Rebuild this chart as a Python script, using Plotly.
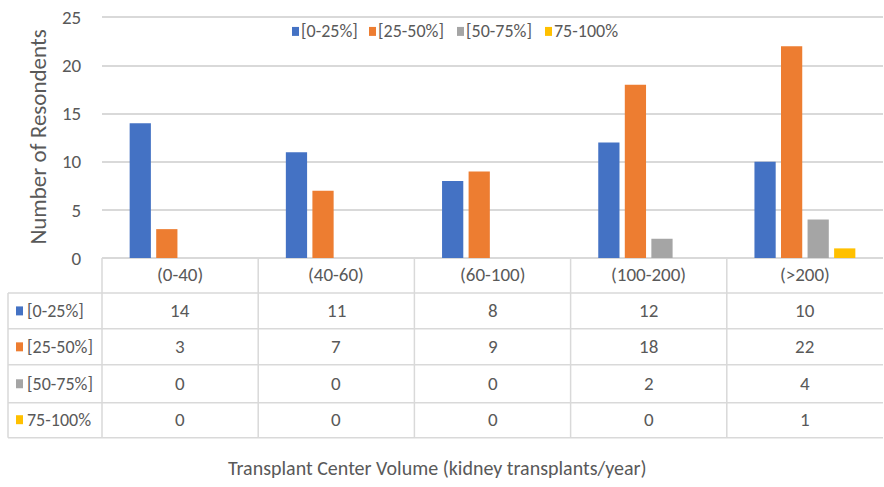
import plotly.graph_objects as go

categories = ["(0-40)", "(40-60)", "(60-100)", "(100-200)", "(>200)"]
series_names = ["[0-25%]", "[25-50%]", "[50-75%]", "75-100%"]
s_0_25 = [14, 11, 8, 12, 10]
s_25_50 = [3, 7, 9, 18, 22]
s_50_75 = [0, 0, 0, 2, 4]
s_75_100 = [0, 0, 0, 0, 1]
series_values = [s_0_25, s_25_50, s_50_75, s_75_100]
colors = ["#4472C4", "#ED7D31", "#A5A5A5", "#FFC000"]
y_ticks = [0, 5, 10, 15, 20, 25]
y_max = 25.15  # a hair above 25 so the top gridline is kept

W, H = 884, 487
Y0_PX, Y25_PX = 258, 17  # pixel rows of 0 and 25 on the value axis
PX_PER_UNIT = (Y0_PX - Y25_PX) / 25
L, R = 102, 1
B = H - Y0_PX
T = Y0_PX - PX_PER_UNIT * y_max
PW = W - L - R
PH = H - T - B
FONT = "Carlito, Lato, sans-serif"
TXT = "#595959"
GRID = "#D9D9D9"
FS = 19


def px2p(px):
    return (px - L) / PW


def py2p(py):
    return (H - B - py) / PH


fig = go.Figure()
for name, vals, col in zip(series_names, series_values, colors):
    fig.add_trace(go.Bar(x=categories, y=vals, name=name, showlegend=False,
                         marker=dict(color=col, line=dict(width=0))))

shapes = []
annotations = []
row_lines = [293, 329, 365, 403, 438]
row_centers = [311, 347, 384, 420]
for py in row_lines:
    shapes.append(dict(type="line", xref="paper", yref="paper", x0=px2p(8), x1=1.0,
                       y0=py2p(py), y1=py2p(py), line=dict(color=GRID, width=1.5)))
shapes.append(dict(type="line", xref="paper", yref="paper", x0=px2p(8), x1=px2p(8),
                   y0=py2p(row_lines[0]), y1=py2p(row_lines[-1]), line=dict(color=GRID, width=1.5)))
n = len(categories)
for i in range(n):
    xp = i / n
    shapes.append(dict(type="line", xref="paper", yref="paper", x0=xp, x1=xp,
                       y0=0, y1=py2p(row_lines[-1]), line=dict(color=GRID, width=1.5)))

# header row: category labels
for c in categories:
    annotations.append(dict(text=c, xref="x", yref="paper", x=c, y=py2p(275),
                            xanchor="center", yanchor="middle", showarrow=False,
                            font=dict(family=FONT, size=FS, color=TXT)))

# data rows
for r, (name, vals, col) in enumerate(zip(series_names, series_values, colors)):
    yc = py2p(row_centers[r])
    shapes.append(dict(type="rect", xref="paper", yref="paper", x0=px2p(16), x1=px2p(23),
                       y0=yc - 4.5 / PH, y1=yc + 4.5 / PH, fillcolor=col, line=dict(width=0)))
    annotations.append(dict(text=name, xref="paper", yref="paper", x=px2p(25), y=yc,
                            xanchor="left", yanchor="middle", showarrow=False,
                            font=dict(family=FONT, size=18, color=TXT)))
    for c, v in zip(categories, vals):
        annotations.append(dict(text=str(v), xref="x", yref="paper", x=c, y=yc,
                                xanchor="center", yanchor="middle", showarrow=False,
                                font=dict(family=FONT, size=FS, color=TXT)))

# legend (top, drawn as keys + labels)
legend_sq_left = [292, 369, 457, 545]
ly = py2p(31)
for name, col, sx in zip(series_names, colors, legend_sq_left):
    shapes.append(dict(type="rect", xref="paper", yref="paper", x0=px2p(sx), x1=px2p(sx + 7),
                       y0=ly - 4.5 / PH, y1=ly + 4.5 / PH, fillcolor=col, line=dict(width=0)))
    annotations.append(dict(text=name, xref="paper", yref="paper", x=px2p(sx + 7), y=ly,
                            xanchor="left", yanchor="middle", showarrow=False,
                            font=dict(family=FONT, size=18, color=TXT)))

annotations.append(dict(text="Transplant Center Volume (kidney transplants/year)", xref="paper", yref="paper",
                        x=px2p(437), y=py2p(468), xanchor="center", yanchor="middle", showarrow=False,
                        font=dict(family=FONT, size=20, color=TXT)))

fig.update_layout(
    width=W, height=H,
    margin=dict(l=L, r=R, t=T, b=B, autoexpand=False),
    paper_bgcolor="white", plot_bgcolor="white",
    barmode="group", bargap=0.32, bargroupgap=0.2,
    font=dict(family=FONT, color=TXT),
    showlegend=False,
    xaxis=dict(type="category", range=[-0.5, 4.5], showgrid=False, zeroline=False, showline=False,
               automargin=False, showticklabels=False, ticks=""),
    yaxis=dict(range=[0, y_max], tickvals=y_ticks, showgrid=True, gridcolor=GRID, gridwidth=1.5,
               zeroline=True, zerolinecolor=GRID, zerolinewidth=1.5, showline=False,
               automargin=False, ticklabeloverflow="allow",
               ticks="outside", ticklen=16, tickcolor="rgba(0,0,0,0)",
               tickfont=dict(family=FONT, size=19, color=TXT),
               title=dict(text="Number of Resondents", standoff=8,
                          font=dict(family=FONT, size=23, color=TXT))),
    shapes=shapes, annotations=annotations,
)

fig.write_html("out.html", config={"displayModeBar": False},
               post_script="document.body.style.margin='0';")
